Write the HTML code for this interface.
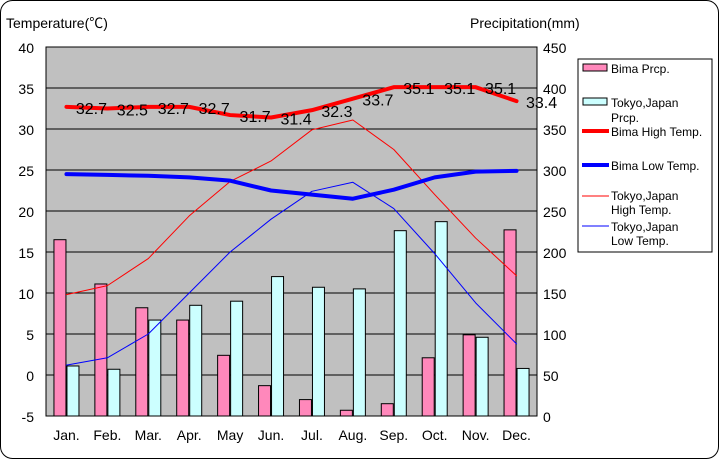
<!DOCTYPE html>
<html><head><meta charset="utf-8"><style>
body{margin:0;background:#fff}
svg text{font-family:"Liberation Sans","Noto Sans CJK JP",sans-serif}
</style></head><body>
<svg id="c" width="720" height="460" xmlns="http://www.w3.org/2000/svg">
<rect x="0.5" y="0.5" width="718" height="458" rx="12" fill="#fff" stroke="#000"/>
<text x="6" y="28" font-size="14">Temperature(℃)</text>
<text x="470" y="28" font-size="14">Precipitation(mm)</text>
<rect x="46" y="47" width="491" height="369" fill="#c0c0c0" stroke="#000"/>
<g id="grid"></g><g id="bars"></g><g id="lines"></g><g id="axes"></g>
<g>
<rect x="578" y="59" width="134" height="193" fill="#fff" stroke="#000"/>
<rect x="583" y="64" width="24" height="7" fill="#ff88bb" stroke="#000"/>
<text x="611" y="73" font-size="12">Bima Prcp.</text>
<rect x="583" y="98" width="24" height="7" fill="#ccffff" stroke="#000"/>
<text x="611" y="107" font-size="12">Tokyo,Japan</text><text x="611" y="122" font-size="12">Prcp.</text>
<line x1="582" y1="131" x2="609" y2="131" stroke="#f00" stroke-width="4"/>
<text x="611" y="136" font-size="12">Bima High Temp.</text>
<line x1="582" y1="165" x2="609" y2="165" stroke="#00f" stroke-width="4"/>
<text x="611" y="170" font-size="12">Bima Low Temp.</text>
<line x1="582" y1="196" x2="609" y2="196" stroke="#f00" stroke-width="1"/>
<text x="611" y="200" font-size="12">Tokyo,Japan</text><text x="611" y="214" font-size="12">High Temp.</text>
<line x1="582" y1="226" x2="609" y2="226" stroke="#00f" stroke-width="1"/>
<text x="611" y="231" font-size="12">Tokyo,Japan</text><text x="611" y="245" font-size="12">Low Temp.</text>
</g>
</svg>
<script>
const months=["Jan.","Feb.","Mar.","Apr.","May","Jun.","Jul.","Aug.","Sep.","Oct.","Nov.","Dec."];
const tempTicks=[-5,0,5,10,15,20,25,30,35,40];
const prcpTicks=[0,50,100,150,200,250,300,350,400,450];
const bimaPrcp=[215,161,132,117,74,37,20,7,15,71,99,227];
const tokyoPrcp=[61,57,117,135,140,170,157,155,226,237,96,58];
const bimaHigh=[32.7,32.5,32.7,32.7,31.7,31.4,32.3,33.7,35.1,35.1,35.1,33.4];
const bimaLow=[24.5,24.4,24.3,24.1,23.7,22.5,22.0,21.5,22.6,24.1,24.8,24.9];
const tokyoHigh=[9.8,10.9,14.2,19.4,23.6,26.1,29.9,31.1,27.5,22.0,16.7,12.1];
const tokyoLow=[1.2,2.1,5.0,10.0,15.0,19.0,22.4,23.5,20.3,14.8,8.8,3.8];
const NS="http://www.w3.org/2000/svg";
const L=46,R=537,T=47,B=416;
const cw=(R-L)/12;
const xc=i=>L+cw*(i+0.5);
const yT=v=>B-(v+5)/45*(B-T);
const yP=v=>B-v/450*(B-T);
function mk(tag,attrs,parent,txt){const e=document.createElementNS(NS,tag);for(const k in attrs)e.setAttribute(k,attrs[k]);if(txt!==undefined)e.textContent=txt;document.getElementById(parent).appendChild(e);return e;}
tempTicks.forEach(t=>{
 if(t>-5&&t<40){const g=mk("line",{x1:L,x2:R,y1:yT(t),y2:yT(t),stroke:"#000","stroke-width":1},"grid");
 
 }
 const e=mk("text",{x:34,y:yT(t)+6,"font-size":14,"text-anchor":"end"},"axes",String(t));
 
 
});
prcpTicks.forEach(p=>{
 const e=mk("text",{x:543,y:yP(p)+6,"font-size":14},"axes",String(p));
 
 
});
months.forEach((m,i)=>{
 const e=mk("text",{x:xc(i),y:440,"font-size":14,"text-anchor":"middle"},"axes",m);
 
 
 const b1=mk("rect",{x:xc(i)-12.5,y:yP(bimaPrcp[i]),width:12,height:B-yP(bimaPrcp[i]),fill:"#ff88bb",stroke:"#000"},"bars");
 
 
 const b2=mk("rect",{x:xc(i)+0.5,y:yP(tokyoPrcp[i]),width:12,height:B-yP(tokyoPrcp[i]),fill:"#ccffff",stroke:"#000"},"bars");
 
 
});
function line(arr,color,w,name){
 const p=mk("polyline",{points:arr.map((v,i)=>xc(i)+","+yT(v)).join(" "),fill:"none",stroke:color,"stroke-width":w,"stroke-linejoin":"round","stroke-linecap":"round"},"lines");
 
 
}
line(tokyoHigh,"#f00",1,"line-tokyo-high");
line(tokyoLow,"#00f",1,"line-tokyo-low");
line(bimaLow,"#00f",4,"line-bima-low");
line(bimaHigh,"#f00",4,"line-bima-high");
bimaHigh.forEach((v,i)=>{
 const e=mk("text",{x:xc(i)+25,y:yT(v)+7,"font-size":16,"text-anchor":"middle"},"lines",v.toFixed(1));
 
 
});
</script>
</body></html>
